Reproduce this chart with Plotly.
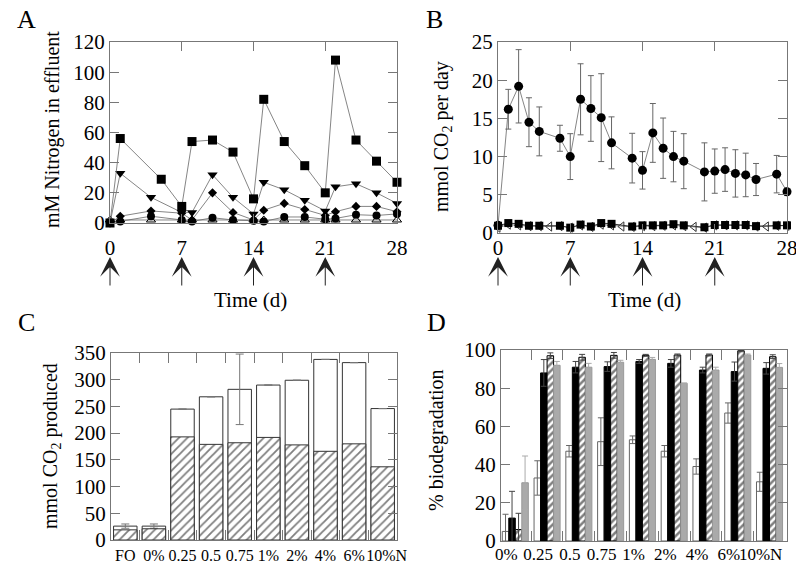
import plotly.graph_objects as go

W, H = 796, 568

def px(x):
    return x / W

def py(y):
    return 1 - y / H

FONT = "Liberation Serif"

# ---------------- Panel A data ----------------
A_days = [0, 1, 4, 7, 8, 10, 12, 14, 15, 17, 19, 21, 22, 24, 26, 28]
A_sq_days = [0, 1, 5, 7, 8, 10, 12, 14, 15, 17, 19, 21, 22, 24, 26, 28]
A_square = [0, 56, 29, 11, 54, 55, 47, 16, 82, 54, 38, 20, 108, 55, 41, 27]
A_tri_down = [0, 33, 17, 7, 7, 32, 17, 6, 27, 22, 15, 8, 24, 26, 20, 13]
A_diamond = [0, 4.5, 8, 6.5, 2, 20, 7, 2, 8.5, 13, 9, 5, 7.5, 11, 11, 7.5]
A_circle = [0, 1, 4.5, 2, 1, 3.5, 2, 1.5, 1, 4, 4, 2.5, 3, 5.5, 5, 6]
A_open_tri = [2, 2, 2, 2, 2, 2, 2, 2, 2, 2, 2, 2, 2, 2, 2, 2]
A_ticks = [0, 7, 14, 21, 28]
feed_days = [0, 7, 14, 21]

# ---------------- Panel B data ----------------
B_days = [0, 1, 2, 3, 4, 6, 7, 8, 9, 10, 11, 13, 14, 15, 16, 17, 18, 20, 21, 22, 23, 24, 25, 27, 28]
B_circle = [1.0, 16.2, 19.2, 14.5, 13.3, 12.4, 10.0, 17.5, 16.3, 15.1, 11.8, 9.8, 8.2, 13.1, 11.1,
            10.0, 9.4, 8.0, 8.1, 8.3, 7.8, 7.6, 7.0, 7.7, 5.4]
B_circle_err = [0, 2.6, 4.8, 3.2, 3.2, 1.7, 3.0, 4.65, 4.3, 5.75, 3.4, 3.25, 2.45, 3.85, 3.95,
                3.3, 3.6, 3.8, 2.9, 2.85, 3.1, 2.85, 2.1, 2.45, 0.5]
B_square = [0.95, 1.3, 1.2, 0.95, 0.95, 0.95, 0.7, 1.1, 0.85, 1.3, 1.2, 0.85, 1.0, 1.0, 1.0,
            1.15, 1.0, 0.75, 1.05, 1.05, 1.05, 1.05, 0.9, 1.0, 1.0]
B_open_days = list(range(0, 29))
B_open = [0.7, 1.1, 1.0, 0.9, 0.9, 0.85, 0.9, 0.7, 1.0, 0.8, 1.1, 1.0, 0.85, 0.8, 0.9,
          0.9, 0.95, 1.0, 0.9, 0.8, 0.7, 1.0, 1.0, 1.0, 1.0, 0.85, 0.85, 0.95, 0.95]

# ---------------- Panel C data ----------------
C_cats = ["FO", "0%", "0.25", "0.5", "0.75", "1%", "2%", "4%", "6%", "10%N"]
C_total = [26, 26, 245, 268, 282, 290, 299, 338, 332, 246]
C_total_err = [4, 4, 0, 0, 66, 0, 0, 0, 0, 0]
C_hatched = [19, 21, 193, 179, 182, 192, 178, 166, 180, 137]

# ---------------- Panel D data ----------------
D_cats = ["0%", "0.25", "0.5", "0.75", "1%", "2%", "4%", "6%", "10%N"]
D_white = [5, 33, 47, 52, 53, 47, 39, 67, 31]
D_white_err = [9, 9, 3, 12.5, 2, 3, 4, 5.3, 5]
D_black = [12, 88, 91, 91.3, 94, 93, 89.5, 88.7, 90.4]
D_black_err = [14, 7, 3, 2.5, 1, 2, 1.5, 5, 3]
D_hatch = [6, 97, 96.2, 97.2, 97.2, 97.4, 97.4, 99.6, 96.5]
D_hatch_err = [8.5, 1.5, 1.5, 1.5, 0.5, 0.5, 0.5, 0.5, 1]
D_gray = [30.5, 92, 91, 93.6, 95.1, 82.6, 89.5, 97.4, 90.9]
D_gray_err = [14, 2, 2, 1, 1, 0, 1.5, 0.5, 2]

fig = go.Figure()
LINE = dict(color="#666", width=0.8)

# Panel A traces
fig.add_trace(go.Scatter(x=A_days, y=A_open_tri, mode="lines+markers", line=LINE,
                         marker=dict(symbol="triangle-up-open", size=8, color="black", line=dict(width=1)),
                         xaxis="x", yaxis="y", cliponaxis=False))
fig.add_trace(go.Scatter(x=A_days, y=A_circle, mode="lines+markers", line=LINE,
                         marker=dict(symbol="circle", size=8, color="black"),
                         xaxis="x", yaxis="y", cliponaxis=False))
fig.add_trace(go.Scatter(x=A_days, y=A_diamond, mode="lines+markers", line=LINE,
                         marker=dict(symbol="diamond", size=7, color="black"),
                         xaxis="x", yaxis="y", cliponaxis=False))
fig.add_trace(go.Scatter(x=A_days, y=A_tri_down, mode="lines+markers", line=LINE,
                         marker=dict(symbol="triangle-down", size=9, color="black"),
                         xaxis="x", yaxis="y", cliponaxis=False))
fig.add_trace(go.Scatter(x=A_sq_days, y=A_square, mode="lines+markers", line=LINE,
                         marker=dict(symbol="square", size=9, color="black"),
                         xaxis="x", yaxis="y", cliponaxis=False))

# Panel B traces
fig.add_trace(go.Scatter(x=B_open_days, y=B_open, mode="lines+markers", line=LINE,
                         marker=dict(symbol="triangle-left-open", size=8, color="#333", line=dict(width=1)),
                         xaxis="x2", yaxis="y2", cliponaxis=False))
fig.add_trace(go.Scatter(x=B_days, y=B_square, mode="lines+markers", line=dict(color="#333", width=1),
                         marker=dict(symbol="square", size=8, color="black"),
                         xaxis="x2", yaxis="y2", cliponaxis=False))
fig.add_trace(go.Scatter(x=B_days, y=B_circle, mode="lines+markers", line=LINE,
                         marker=dict(symbol="circle", size=9, color="black"),
                         error_y=dict(type="data", array=B_circle_err, color="#666", thickness=1, width=3),
                         xaxis="x2", yaxis="y2", cliponaxis=False))

# Panel C traces
C_x = list(range(len(C_cats)))
fig.add_trace(go.Bar(x=C_x, y=C_total, width=0.82, marker=dict(color="white", line=dict(color="#333", width=1)),
                     error_y=dict(type="data", array=C_total_err, color="#777", thickness=1, width=4),
                     xaxis="x3", yaxis="y3"))
fig.add_trace(go.Bar(x=C_x, y=C_hatched, width=0.82,
                     marker=dict(color="white", line=dict(color="#333", width=1),
                                 pattern=dict(shape="/", fgcolor="black", bgcolor="white", size=6, solidity=0.3)),
                     xaxis="x3", yaxis="y3"))

# Panel D traces
D_x = list(range(len(D_cats)))
BW = 0.205
fig.add_trace(go.Bar(x=D_x, y=D_white, width=BW, offset=-2 * BW,
                     marker=dict(color="white", line=dict(color="#666", width=1)),
                     error_y=dict(type="data", array=D_white_err, color="#666", thickness=1, width=3),
                     xaxis="x4", yaxis="y4"))
fig.add_trace(go.Bar(x=D_x, y=D_black, width=BW, offset=-BW,
                     marker=dict(color="black", line=dict(color="black", width=1)),
                     error_y=dict(type="data", array=D_black_err, color="#444", thickness=1, width=3),
                     xaxis="x4", yaxis="y4"))
fig.add_trace(go.Bar(x=D_x, y=D_hatch, width=BW, offset=0,
                     marker=dict(color="white", line=dict(color="black", width=1),
                                 pattern=dict(shape="/", fgcolor="black", bgcolor="white", size=5, solidity=0.5)),
                     error_y=dict(type="data", array=D_hatch_err, color="#444", thickness=1, width=3),
                     xaxis="x4", yaxis="y4"))
fig.add_trace(go.Bar(x=D_x, y=D_gray, width=BW, offset=BW,
                     marker=dict(color="#aaaaaa", line=dict(color="#999", width=1)),
                     error_y=dict(type="data", array=D_gray_err, color="#aaa", thickness=1, width=3),
                     xaxis="x4", yaxis="y4"))

AX = dict(showline=True, linecolor="#777", linewidth=1, mirror="ticks", ticks="inside",
          ticklen=9, tickcolor="#777", showgrid=False, zeroline=False, tickangle=0,
          ticklabeloverflow="allow",
          tickfont=dict(family=FONT, size=21, color="black"))

C_label_pos = [i for i in C_x[:-1]] + [C_x[-1] + 0.14]

fig.update_layout(
    width=W, height=H, margin=dict(l=0, r=0, t=0, b=0, autoexpand=False),
    paper_bgcolor="white", plot_bgcolor="white", showlegend=False, barmode="overlay",
    font=dict(family=FONT, color="black"),
    xaxis=dict(AX, domain=[px(110), px(397)], anchor="y", range=[0, 28], tickvals=A_ticks, ticklabelstandoff=6),
    yaxis=dict(AX, domain=[py(223), py(42)], anchor="x", range=[0, 120], tickvals=[0, 20, 40, 60, 80, 100, 120]),
    xaxis2=dict(AX, domain=[px(498), px(787)], anchor="y2", range=[0, 28], tickvals=A_ticks, ticklabelstandoff=-4),
    yaxis2=dict(AX, domain=[py(233), py(42)], anchor="x2", range=[0, 25], tickvals=[0, 5, 10, 15, 20, 25]),
    xaxis3=dict(AX, domain=[px(111), px(397)], anchor="y3", range=[-0.5, 9.5], tickvals=C_label_pos, ticktext=C_cats,
                ticks="", tickfont=dict(family=FONT, size=16, color="black"), ticklabelstandoff=1,
                minor=dict(tickvals=[i + 0.5 for i in C_x[:-1]], ticks="inside", ticklen=10, tickcolor="#777")),
    yaxis3=dict(AX, domain=[py(540), py(353)], anchor="x3", range=[0, 350], tickvals=[0, 50, 100, 150, 200, 250, 300, 350]),
    xaxis4=dict(AX, domain=[px(501), px(787)], anchor="y4", range=[-0.45, 8.55],
                tickvals=[i - 0.28 for i in D_x], ticktext=D_cats, ticks="",
                tickfont=dict(family=FONT, size=17, color="black"), ticklabelstandoff=-2,
                minor=dict(tickvals=[i + 0.5 for i in D_x[:-1]], ticks="inside", ticklen=10, tickcolor="#777")),
    yaxis4=dict(AX, domain=[py(541), py(350)], anchor="x4", range=[0, 100], tickvals=[0, 20, 40, 60, 80, 100]),
)

ann = []
def label(text, x, y, size=20, angle=0):
    ann.append(dict(text=text, x=px(x), y=py(y), xref="paper", yref="paper", showarrow=False,
                    xanchor="center", yanchor="middle", textangle=angle,
                    font=dict(family=FONT, size=size, color="black")))

label("A", 26, 20, 26)
label("B", 434, 20, 26)
label("C", 26, 322, 26)
label("D", 436, 322, 26)
label("mM Nitrogen in effluent", 52, 130, 20, -90)
label("mmol CO<sub>2</sub> per day", 443, 137, 20, -90)
label("mmol CO<sub>2</sub> produced", 51, 446, 20, -90)
label("% biodegradation", 436, 440, 20, -90)
label("Time (d)", 250, 300, 21)
label("Time (d)", 644, 300, 21)

for xr in ["x", "x2"]:
    for d in feed_days:
        ann.append(dict(x=d, xref=xr, y=py(257), yref="paper", text="", showarrow=True,
                        ax=0, ay=30, axref="pixel", ayref="pixel", arrowhead=3, arrowsize=3.3,
                        arrowwidth=1, arrowcolor="#222"))

fig.update_layout(annotations=ann)
fig.write_html("out.html", config={"displayModeBar": False},
               post_script="document.body.style.margin='0';document.body.style.overflow='hidden';")
